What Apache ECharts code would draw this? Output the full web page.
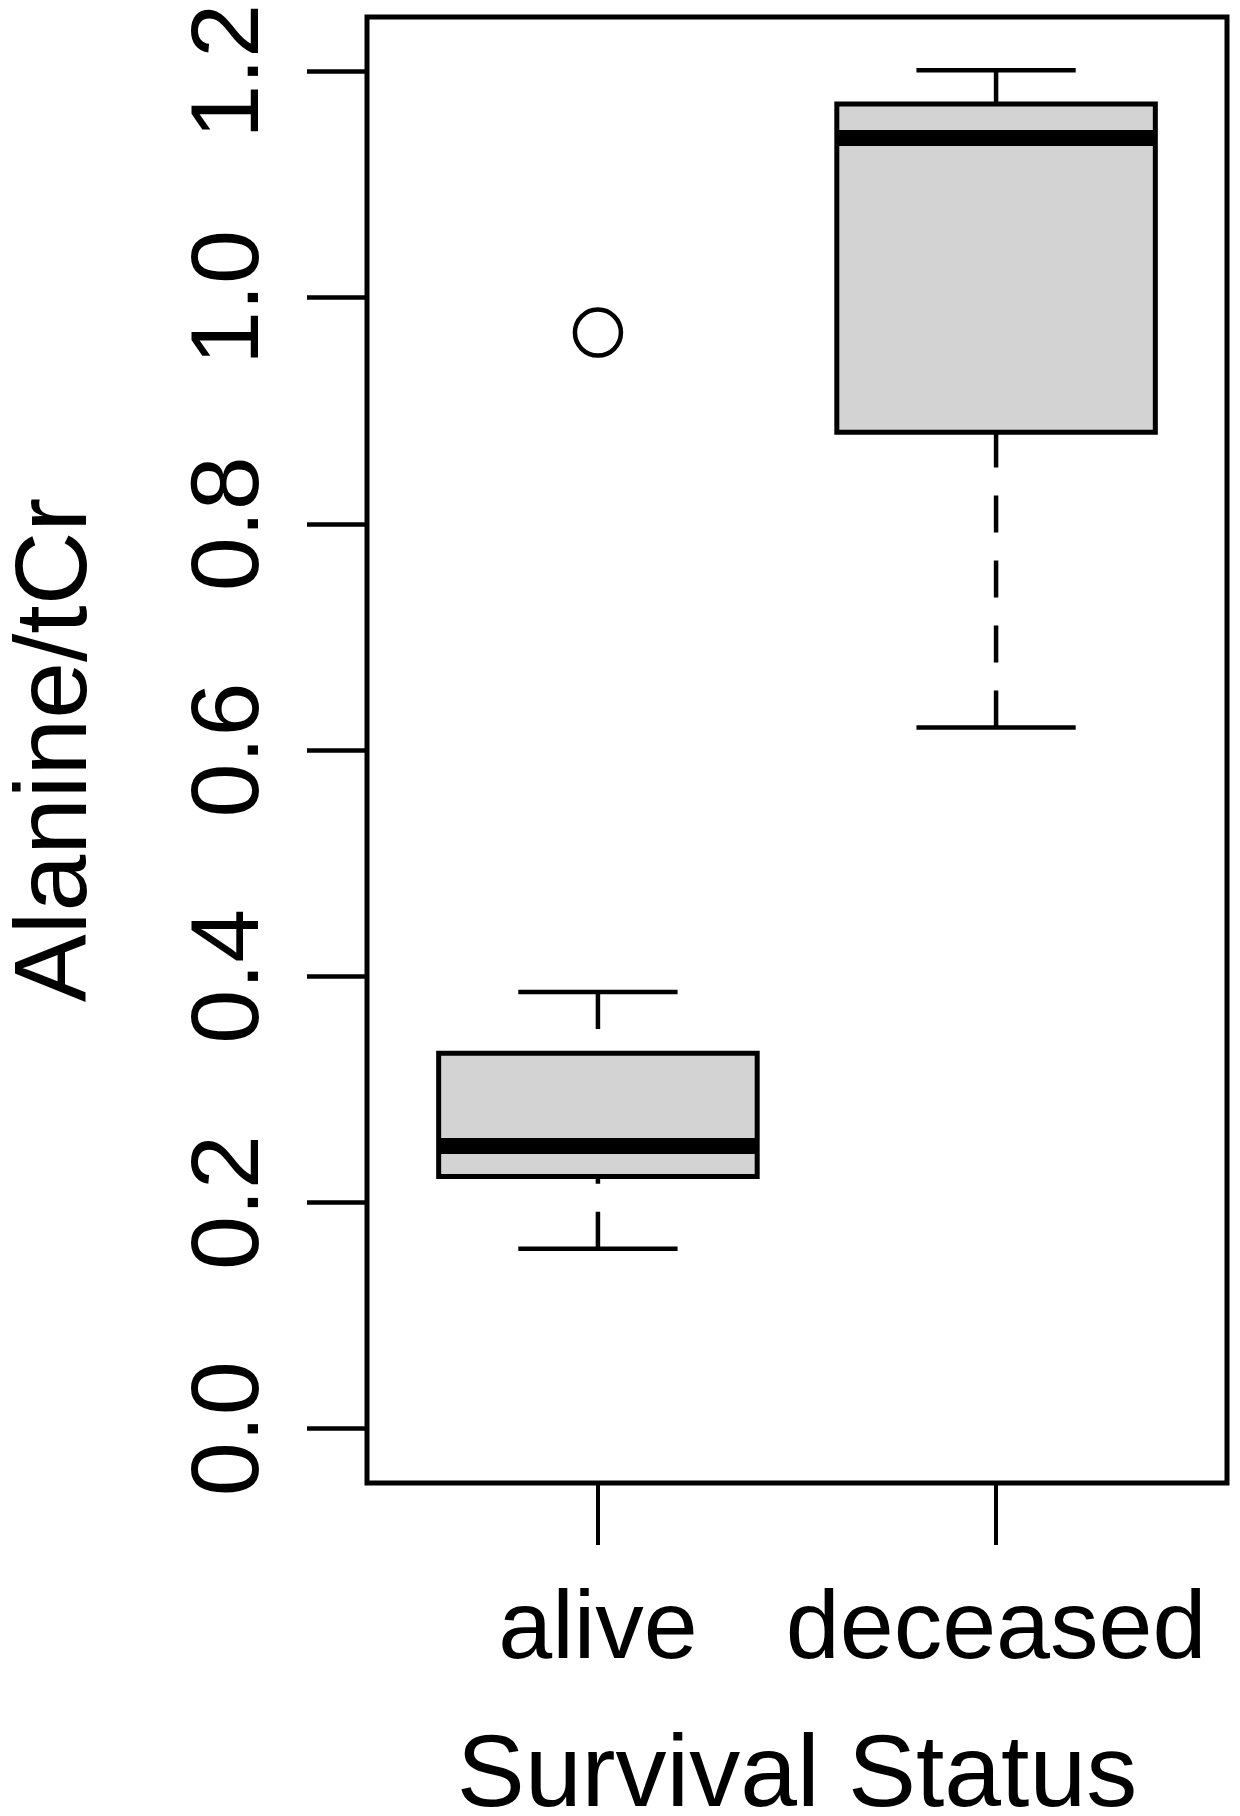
<!DOCTYPE html>
<html>
<head>
<meta charset="utf-8">
<script src="https://cdn.jsdelivr.net/npm/echarts@6/dist/echarts.min.js"></script>
<style>
  html, body { margin: 0; padding: 0; background: #fff; }
  #chart { width: 1240px; height: 1816px; }
</style>
</head>
<body>
<div id="chart"></div>
<script>
// ---- data ----
const categories = ['alive', 'deceased'];
const categoryPositions = [1, 2];
const lowerWhisker = [0.159, 0.620];
const lowerQuartile = [0.223, 0.881];
const medians = [0.250, 1.141];
const upperQuartile = [0.332, 1.171];
const upperWhisker = [0.386, 1.201];
const outlierCategory = [0];
const outlierValue = [0.969];
const yTicks = [0, 0.2, 0.4, 0.6, 0.8, 1.0, 1.2];
const xTitle = 'Survival Status';
const yTitle = 'Alanine/tCr';

const FONT = '"Liberation Sans", Arial, Helvetica, sans-serif';

const boxData = categories.map((c, i) => [
  categoryPositions[i], lowerWhisker[i], lowerQuartile[i], medians[i], upperQuartile[i], upperWhisker[i]
]);
const outlierData = outlierCategory.map((ci, k) => [categoryPositions[ci], outlierValue[k]]);

const chart = echarts.init(document.getElementById('chart'), null, { renderer: 'canvas' });

function renderBox(params, api) {
  const x = api.value(0);
  const lo = api.value(1), q1 = api.value(2), md = api.value(3), q3 = api.value(4), hi = api.value(5);
  const halfBox = api.size([0.8, 0])[0] / 2;
  const halfStaple = api.size([0.4, 0])[0] / 2;
  const pLo = api.coord([x, lo]);
  const pQ1 = api.coord([x, q1]);
  const pMd = api.coord([x, md]);
  const pQ3 = api.coord([x, q3]);
  const pHi = api.coord([x, hi]);
  const cx = pMd[0];
  const whiskerStyle = { stroke: '#000', lineWidth: 4.5, lineDash: [37, 28], lineCap: 'butt' };
  const solid = { stroke: '#000', lineWidth: 4.5, lineCap: 'butt' };
  return {
    type: 'group',
    children: [
      { type: 'line', shape: { x1: cx, y1: pHi[1], x2: cx, y2: pQ3[1] }, style: whiskerStyle },
      { type: 'line', shape: { x1: cx, y1: pLo[1], x2: cx, y2: pQ1[1] }, style: whiskerStyle },
      { type: 'line', shape: { x1: cx - halfStaple, y1: pHi[1], x2: cx + halfStaple, y2: pHi[1] }, style: solid },
      { type: 'line', shape: { x1: cx - halfStaple, y1: pLo[1], x2: cx + halfStaple, y2: pLo[1] }, style: solid },
      { type: 'rect', shape: { x: cx - halfBox, y: pQ3[1], width: 2 * halfBox, height: pQ1[1] - pQ3[1] },
        style: { fill: '#d3d3d3', stroke: '#000', lineWidth: 5 } },
      { type: 'line', shape: { x1: cx - halfBox, y1: pMd[1], x2: cx + halfBox, y2: pMd[1] },
        style: { stroke: '#000', lineWidth: 16, lineCap: 'butt' } }
    ]
  };
}

const option = {
  backgroundColor: '#fff',
  animation: false,
  grid: {
    left: 367, right: 13, top: 17, bottom: 333,
    outerBoundsMode: 'none',
    containLabel: false,
    show: true, borderColor: '#000', borderWidth: 5, backgroundColor: 'transparent'
  },
  xAxis: {
    type: 'value', min: 0.42, max: 2.58,
    axisLine: { show: false, onZero: false },
    splitLine: { show: false },
    axisTick: { show: true, customValues: categoryPositions, length: 62, lineStyle: { color: '#000', width: 4 } },
    axisLabel: {
      show: true, customValues: categoryPositions, margin: 100,
      formatter: v => categories[categoryPositions.indexOf(Math.round(v))] || '',
      fontFamily: FONT, fontSize: 97, color: '#000'
    },
    name: xTitle, nameLocation: 'middle', nameGap: 244,
    nameTextStyle: { fontFamily: FONT, fontSize: 102, color: '#000' }
  },
  yAxis: {
    type: 'value', min: -0.048, max: 1.248,
    axisLine: { show: false, onZero: false },
    splitLine: { show: false },
    axisTick: { show: true, customValues: yTicks, length: 60, lineStyle: { color: '#000', width: 4.5 } },
    axisLabel: {
      show: true, customValues: yTicks, rotate: 90, margin: 87,
      formatter: v => v.toFixed(1),
      fontFamily: FONT, fontSize: 97, color: '#000'
    },
    name: yTitle, nameLocation: 'middle', nameGap: 258, nameRotate: 90,
    nameTextStyle: { fontFamily: FONT, fontSize: 102, color: '#000' }
  },
  series: [
    {
      type: 'custom',
      renderItem: renderBox,
      data: boxData,
      encode: { x: 0, y: [1, 2, 3, 4, 5] },
      clip: false,
      z: 2
    },
    {
      type: 'scatter',
      data: outlierData,
      symbol: 'circle',
      symbolSize: 46,
      itemStyle: { color: 'rgba(0,0,0,0)', borderColor: '#000', borderWidth: 4.5, opacity: 1 },
      z: 3
    }
  ]
};

chart.setOption(option);
</script>
</body>
</html>
